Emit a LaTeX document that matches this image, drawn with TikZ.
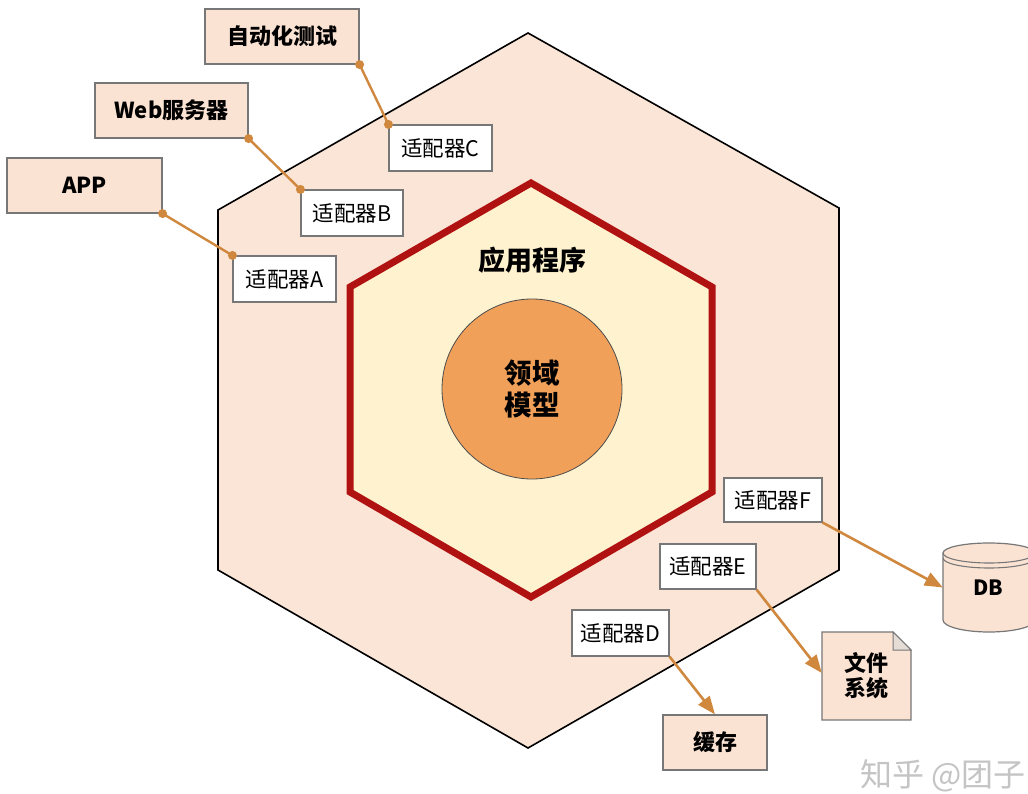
\documentclass[tikz,border=0pt]{standalone}
\usepackage{fontspec}
\setmainfont{Noto Sans CJK SC}
\usetikzlibrary{arrows.meta}
\definecolor{outerfill}{HTML}{FBE5D6}
\definecolor{boxfill}{HTML}{FBE3D3}
\definecolor{innerfill}{HTML}{FFF2CF}
\definecolor{innerred}{HTML}{B01212}
\definecolor{core}{HTML}{F1A059}
\definecolor{conn}{HTML}{CF883E}
\definecolor{boxline}{HTML}{777777}
\definecolor{wm}{HTML}{C4C4C4}
\begin{document}
\begin{tikzpicture}[x=1pt,y=-1pt,
  extbox/.style={draw=boxline, line width=1.2pt, fill=boxfill, inner sep=0pt,
    font=\fontsize{22}{26}\selectfont\bfseries},
  adapter/.style={draw=boxline, line width=1.1pt, fill=white, inner sep=0pt,
    font=\fontsize{21.5}{24}\selectfont},
  link/.style={draw=conn, line width=2.4pt},
  flow/.style={draw=conn, line width=2.6pt, -{Triangle[length=18pt,width=14pt]}}
]
\useasboundingbox (0,0) rectangle (1028,794);
\clip (0,0) rectangle (1028,794);

% outer hexagon
\draw[fill=outerfill, line width=1.6pt] (528,33) -- (839,208) -- (839,570) -- (528,748) -- (218,570) -- (218,210) -- cycle;
% inner hexagon
\draw[fill=innerfill, draw=innerred, line width=7pt, line join=miter]
  (531,183) -- (712,287) -- (712,492) -- (531,597) -- (350,492) -- (350,287) -- cycle;
\node[font=\fontsize{27}{30}\selectfont\bfseries] (apptitle) at (532,260) {应用程序};
% core
\node[circle, draw=black!70, line width=0.8pt, fill=core, minimum size=180pt, inner sep=0pt,
  align=center, font=\fontsize{27.5}{32}\selectfont\bfseries] (domain) at (532,389) {领域\\模型};

% external boxes
\node[extbox, minimum width=154pt, minimum height=55pt] (test) at (282,36.5) {自动化测试};
\node[extbox, minimum width=153pt, minimum height=55pt] (web) at (171.5,110.5) {Web服务器};
\node[extbox, minimum width=155pt, minimum height=55pt] (appb) at (84.5,185.5) {APP};

% adapters
\node[adapter, minimum width=103pt, minimum height=46pt] (ac) at (440.5,148) {适配器C};
\node[adapter, minimum width=102pt, minimum height=46pt] (ab) at (352,213) {适配器B};
\node[adapter, minimum width=103pt, minimum height=46pt] (aa) at (284.5,279) {适配器A};
\node[adapter, minimum width=98pt, minimum height=44pt] (af) at (773,500) {适配器F};
\node[adapter, minimum width=96pt, minimum height=45pt] (ae) at (708,566.5) {适配器E};
\node[adapter, minimum width=97pt, minimum height=46pt] (ad) at (620.5,633) {适配器D};

% input links
\draw[link] (test.south east) -- (ac.north west);
\draw[link] (web.south east) -- (ab.north west);
\draw[link] (appb.south east) -- (aa.north west);
\foreach \n in {test.south east, ac.north west, web.south east, ab.north west, appb.south east, aa.north west}
  \fill[conn] (\n) circle (4.5pt);

% cache
\node[extbox, minimum width=104pt, minimum height=55pt] (cache) at (715,742.5) {缓存};

% file system (document shape)
\node[minimum width=89pt, minimum height=88pt, inner sep=0pt] (fs) at (866.5,676) {};
\draw[draw=boxline, line width=1.2pt, fill=boxfill]
  (822,632) -- (893,632) -- (911,650) -- (911,720) -- (822,720) -- cycle;
\draw[draw=boxline, line width=1pt, fill=boxfill!70!gray!60]
  (893,632) -- (893,650) -- (911,650) -- cycle;
\node[align=center, font=\fontsize{22}{25}\selectfont\bfseries] (fstext) at (866,676) {文件\\系统};

% DB cylinder
\node[minimum width=92pt, minimum height=89pt, inner sep=0pt] (db) at (989,587.5) {};
\draw[draw=boxline, line width=1.2pt, fill=boxfill]
  (943,553) -- (943,620) arc[start angle=180, end angle=360, x radius=46pt, y radius=12pt]
  -- (1035,553) arc[start angle=0, end angle=180, x radius=46pt, y radius=10pt] -- cycle;
\draw[draw=boxline, line width=1.1pt]
  (943,553) arc[start angle=180, end angle=360, x radius=46pt, y radius=10pt];
\draw[draw=boxline, line width=1.1pt]
  (943,558) arc[start angle=180, end angle=360, x radius=46pt, y radius=10pt];
\node[font=\fontsize{21}{24}\selectfont\bfseries] (dbtext) at (988,588) {DB};

% output flows
\draw[flow] (af.south east) -- (db.west);
\draw[flow] (ae.south east) -- ([yshift=3pt]fs.west);
\draw[flow] (ad.south east) -- (cache.north);

% watermark
\node[anchor=west, text=wm, font=\fontsize{32}{34}\selectfont, inner sep=0pt] (mark) at (860,776) {知乎 @团子};
\end{tikzpicture}
\end{document}
